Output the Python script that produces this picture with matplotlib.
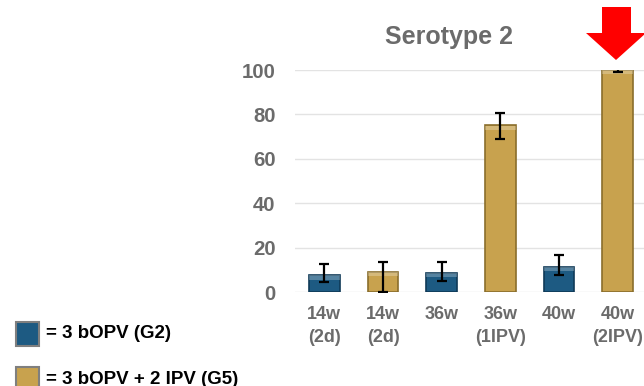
import numpy as np
import matplotlib.pyplot as plt
from matplotlib.patches import Rectangle, Polygon

plt.rcParams["font.family"] = ["Liberation Sans", "DejaVu Sans"]

labels = ["14w\n(2d)", "14w\n(2d)", "36w", "36w\n(1IPV)", "40w", "40w\n(2IPV)"]
values = [7.5, 9, 8.7, 75, 11.4, 100]
err_low = [3, 9, 3.8, 6, 3.8, 1]
err_high = [5, 4.5, 4.8, 5.8, 5.3, 0.8]
groups = ["G2", "G5", "G2", "G5", "G2", "G5"]
legend_labels = ["= 3 bOPV (G2)", "= 3 bOPV + 2 IPV (G5)"]

colors = {"G2": "#1d5a82", "G5": "#c8a24e"}
edges = {"G2": "#0f3a57", "G5": "#8a6e2c"}
grey = "#6b6b6b"

W, H = 644, 386
fig = plt.figure(figsize=(W / 100, H / 100), dpi=100)
# axes spans from x=295 to ~647 px, y=292 (0) to 70 (100)
ax = fig.add_axes([295 / W, (H - 292) / H, 352 / W, 222 / H])

x = np.arange(len(values))
for xi, v, g in zip(x, values, groups):
    ax.bar(xi, v, width=0.52, color=colors[g], edgecolor=edges[g], linewidth=1.2, zorder=3)
    # light bevel on top of each bar
    ax.bar(xi, min(2.0, v * 0.25), bottom=v - min(2.0, v * 0.25), width=0.52,
           color="white", alpha=0.25, linewidth=0, zorder=4)
ax.errorbar(x, values, yerr=[err_low, err_high], fmt="none", ecolor="black",
            elinewidth=1.6, capsize=3.5, capthick=1.6, zorder=5)

ax.set_xlim(-0.5, 5.5)
ax.set_ylim(0, 100)
ax.set_yticks(range(0, 101, 20))
ax.set_xticks(x)
ax.set_xticklabels(labels, fontsize=13, fontweight="bold", color=grey, linespacing=1.45)
ax.tick_params(axis="y", labelsize=14.7, labelcolor=grey, length=0, pad=14)
ax.tick_params(axis="x", length=0, pad=10)
for lbl in ax.get_yticklabels():
    lbl.set_fontweight("bold")
ax.grid(axis="y", color="#e3e3e3", linewidth=1, zorder=0)
for s in ax.spines.values():
    s.set_visible(False)
fig.text(449 / W, (H - 37) / H, "Serotype 2", fontsize=18, fontweight="bold",
         color=grey, ha="center", va="center")

# legend boxes
for i, (g, txt) in enumerate(zip(["G2", "G5"], legend_labels)):
    top = 322 + i * 45
    fig.patches.append(Rectangle((16 / W, (H - top - 24) / H), 23 / W, 24 / H,
                                 transform=fig.transFigure, facecolor=colors[g],
                                 edgecolor="#7f7f7f", linewidth=1.5))
    fig.text(46 / W, (H - top - 12) / H, txt, fontsize=13.5, fontweight="bold",
             va="center", ha="left", color="black")

# red arrow pointing at last bar
pts = [(602, 7), (631, 7), (631, 33), (646, 33), (616, 60), (586, 33), (602, 33)]
fig.patches.append(Polygon([(px / W, (H - py) / H) for px, py in pts], closed=True,
                           transform=fig.transFigure, facecolor="#ff0000",
                           edgecolor="none", zorder=10))

fig.savefig("out.png", dpi=100)
